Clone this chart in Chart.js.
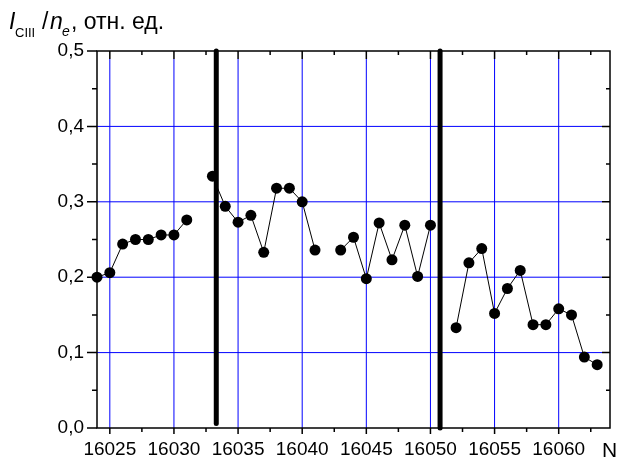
<!DOCTYPE html>
<html>
<head>
<meta charset="utf-8">
<script src="https://cdn.jsdelivr.net/npm/chart.js@4.4.0/dist/chart.umd.min.js"></script>
<style>
  html, body { margin: 0; padding: 0; background: #fff; }
</style>
</head>
<body>
<canvas id="chart" width="617" height="461"></canvas>
<script>
// pulse numbers and measured values (null = no measurement)
const shotN = [16024, 16025, 16026, 16027, 16028, 16029, 16030, 16031, 16032, 16033,
               16034, 16035, 16036, 16037, 16038, 16039, 16040, 16041, 16042, 16043,
               16044, 16045, 16046, 16047, 16048, 16049, 16050, 16051, 16052, 16053,
               16054, 16055, 16056, 16057, 16058, 16059, 16060, 16061, 16062, 16063];
const intensity = [0.200, 0.206, 0.244, 0.250, 0.250, 0.256, 0.256, 0.276, null, 0.334,
                   0.294, 0.273, 0.282, 0.233, 0.318, 0.318, 0.300, 0.236, null, 0.236,
                   0.253, 0.198, 0.272, 0.223, 0.269, 0.201, 0.269, null, 0.133, 0.219,
                   0.238, 0.152, 0.185, 0.209, 0.137, 0.137, 0.158, 0.150, 0.094, 0.084];

// thick vertical separators
const markerN = [16033.3, 16050.75];
const markerLow = [0.006, 0];
const markerHigh = [0.5, 0.5];

const xTicks = [16025, 16030, 16035, 16040, 16045, 16050, 16055, 16060];
const yTicks = [0, 0.1, 0.2, 0.3, 0.4, 0.5];
const xRange = [16024, 16064];
const yRange = [0, 0.5];

const FONT = "'Liberation Sans', Arial, sans-serif";

const points = shotN.map((n, i) => ({ x: n, y: intensity[i] }));

const markerSets = markerN.map((n, i) => ({
    data: [{ x: n, y: markerLow[i] }, { x: n, y: markerHigh[i] }],
    borderColor: '#000',
    borderWidth: 5,
    borderCapStyle: 'round',
    pointRadius: 0,
    clip: false,
    order: 2
}));

// grid, frame, ticks and the axis captions
const framePlugin = {
    id: 'frame',
    beforeDatasetsDraw(chart) {
        const { ctx, chartArea: a, scales: { x, y } } = chart;
        ctx.save();
        ctx.strokeStyle = '#0000ff';
        ctx.lineWidth = 1;
        ctx.beginPath();
        xTicks.forEach(v => {
            const px = x.getPixelForValue(v);
            ctx.moveTo(px, a.top + 8);
            ctx.lineTo(px, a.bottom);
        });
        yTicks.slice(1, -1).forEach(v => {
            const py = y.getPixelForValue(v);
            ctx.moveTo(a.left, py);
            ctx.lineTo(a.right - 8, py);
        });
        ctx.stroke();
        ctx.restore();
    },
    afterDatasetsDraw(chart) {
        const { ctx, chartArea: a, scales: { x, y } } = chart;
        ctx.save();
        ctx.strokeStyle = '#000';
        ctx.lineWidth = 1.5;
        ctx.strokeRect(a.left, a.top, a.right - a.left, a.bottom - a.top);
        ctx.beginPath();
        for (let v = xRange[0] + 1; v < xRange[1]; v += 2.5) {
            const px = x.getPixelForValue(v);
            const major = xTicks.includes(v);
            ctx.moveTo(px, a.bottom);
            ctx.lineTo(px, a.bottom + (major ? 6 : 4));
            ctx.moveTo(px, a.top);
            ctx.lineTo(px, a.top + (major ? 8 : 4));
        }
        for (let k = 1; k < 10; k++) {
            const v = k * 0.05;
            const py = y.getPixelForValue(v);
            const major = k % 2 === 0;
            ctx.moveTo(a.left, py);
            ctx.lineTo(a.left - (major ? 10 : 5), py);
            ctx.moveTo(a.right, py);
            ctx.lineTo(a.right - (major ? 8 : 4), py);
        }
        [a.top, a.bottom].forEach(py => {
            ctx.moveTo(a.left, py);
            ctx.lineTo(a.left - 10, py);
        });
        ctx.stroke();
        ctx.restore();
    },
    afterDraw(chart) {
        const ctx = chart.ctx;
        ctx.save();
        ctx.fillStyle = '#000';
        ctx.textBaseline = 'alphabetic';
        ctx.textAlign = 'left';
        ctx.font = 'italic 23px ' + FONT;
        ctx.fillText('I', 9, 29);
        ctx.font = '13px ' + FONT;
        ctx.fillText('CIII', 15, 37);
        ctx.font = '23px ' + FONT;
        ctx.fillText('/', 42, 29);
        ctx.font = 'italic 23px ' + FONT;
        ctx.fillText('n', 50, 29);
        ctx.font = 'italic 14px ' + FONT;
        ctx.fillText('e', 62, 36);
        ctx.font = '23px ' + FONT;
        ctx.fillText(', отн. ед.', 71, 29);
        ctx.font = '21px ' + FONT;
        ctx.fillText('N', 602, 457);
        ctx.restore();
    }
};

new Chart(document.getElementById('chart'), {
    type: 'line',
    data: {
        datasets: [{
            data: points,
            borderColor: '#000',
            borderWidth: 1,
            pointRadius: 5.5,
            pointBackgroundColor: '#000',
            pointBorderWidth: 0,
            spanGaps: false,
            clip: false,
            order: 1
        }].concat(markerSets)
    },
    options: {
        responsive: false,
        animation: false,
        layout: { padding: { top: 51, right: 7, left: 0, bottom: 0 } },
        plugins: {
            legend: { display: false },
            tooltip: { enabled: false }
        },
        scales: {
            x: {
                type: 'linear',
                min: xRange[0],
                max: xRange[1],
                afterBuildTicks: s => { s.ticks = xTicks.map(v => ({ value: v })); },
                afterFit: s => { s.height = 33; },
                grid: { display: false, drawTicks: false },
                border: { display: false },
                ticks: {
                    padding: 10,
                    color: '#000',
                    font: { family: FONT, size: 19 },
                    callback: v => String(v)
                }
            },
            y: {
                min: yRange[0],
                max: yRange[1],
                afterBuildTicks: s => { s.ticks = yTicks.map(v => ({ value: v })); },
                afterFit: s => { s.width = 97; },
                grid: { display: false, drawTicks: false },
                border: { display: false },
                ticks: {
                    padding: 13,
                    color: '#000',
                    font: { family: FONT, size: 19 },
                    callback: v => v.toFixed(1).replace('.', ',')
                }
            }
        }
    },
    plugins: [framePlugin]
});
</script>
</body>
</html>
